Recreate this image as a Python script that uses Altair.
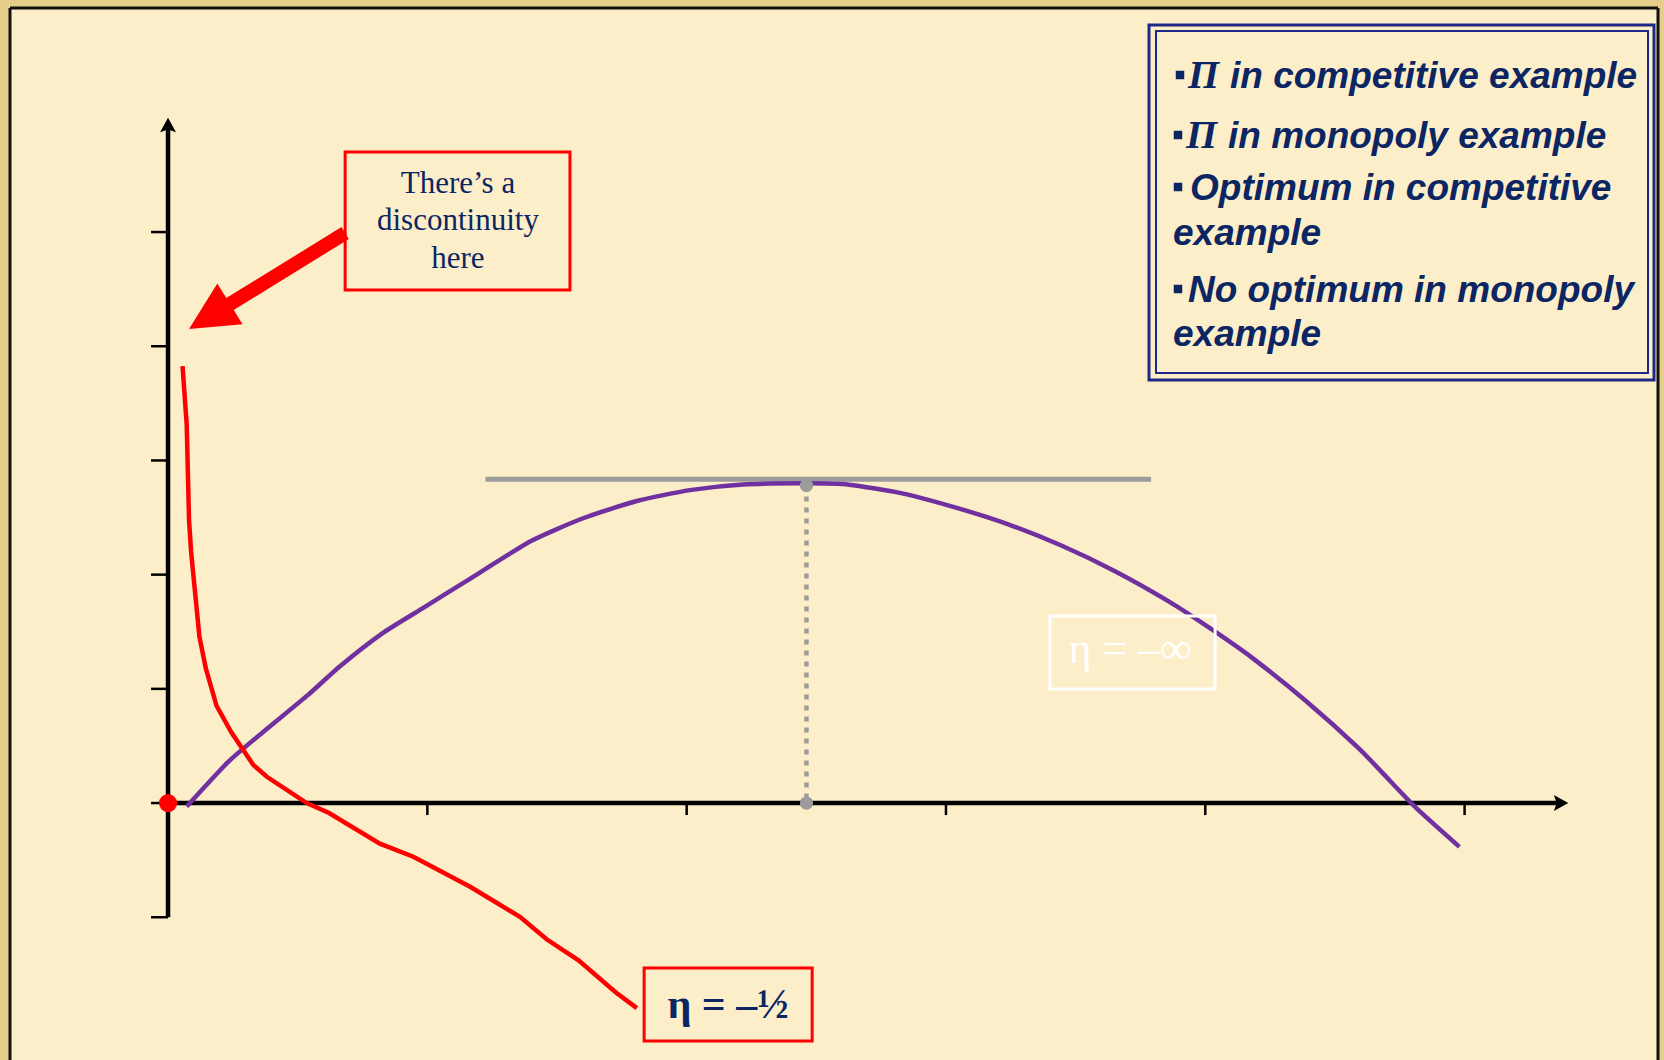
import altair as alt
import pandas as pd

W, H = 1664, 1060

WOOD = "#E5CE8A"
CREAM = "#FCEEC9"
NAVY = "#0C2563"
BOX_BLUE = "#1E2888"
PURPLE = "#7030A0"
RED = "#FF0000"
GREY = "#9C9C9C"

# Competitive example: profit against output (a smooth hill)
comp_q = [0.072, 0.232, 0.375, 0.539, 0.662, 0.825, 0.989, 1.153, 1.398, 1.603, 1.808,
          2.012, 2.217, 2.462, 2.626, 2.831, 3.035, 3.240, 3.445, 3.650, 3.854, 4.018,
          4.181, 4.386, 4.591, 4.713, 4.816, 4.980]
comp_pi = [-0.031, 0.360, 0.638, 0.945, 1.196, 1.484, 1.716, 1.948, 2.292, 2.496, 2.645,
           2.740, 2.790, 2.800, 2.788, 2.712, 2.589, 2.441, 2.255, 2.032, 1.772, 1.531,
           1.271, 0.898, 0.481, 0.193, -0.049, -0.384]

# Monopoly example: profit keeps rising as output shrinks towards zero
mono_q = [0.056, 0.072, 0.081, 0.089, 0.105, 0.121, 0.146, 0.187, 0.244, 0.290, 0.329,
          0.381, 0.535, 0.621, 0.817, 0.946, 1.165, 1.357, 1.460, 1.583, 1.726, 1.808]
mono_pi = [3.826, 3.314, 2.478, 2.199, 1.828, 1.456, 1.177, 0.852, 0.620, 0.464, 0.333,
           0.230, 0.000, -0.087, -0.356, -0.470, -0.733, -0.996, -1.193, -1.378, -1.657,
           -1.796]

# Optimum of the competitive example and its horizontal tangent
opt_q, opt_pi = 2.462, 2.78
tangent_q = [1.224, 3.791]
tangent_pi = 2.836

# Profit at zero output in the monopoly example
zero_q, zero_pi = 0.0, 0.0

# Axes
x_ticks = [1, 2, 3, 4, 5]
y_ticks = [-1, 0, 1, 2, 3, 4, 5]
x_axis_end = 5.40
y_axis_top = 6.0
y_axis_bottom = -1.0

# Scale domains spanning the whole canvas
X_DOMAIN = [-0.648, 5.769]
Y_DOMAIN = [-2.250, 7.032]

ONE = pd.DataFrame({"k": [0]})
xs = alt.Scale(domain=X_DOMAIN, nice=False, zero=False)
ys = alt.Scale(domain=Y_DOMAIN, nice=False, zero=False)


def X(f):
    return alt.X(f, type="quantitative", scale=xs, axis=None)


def Y(f):
    return alt.Y(f, type="quantitative", scale=ys, axis=None)


layers = []

# slide panel and its frame
layers.append(alt.Chart(ONE).mark_rect(fill=CREAM).encode(
    x=alt.value(10), x2=alt.value(1658), y=alt.value(8), y2=alt.value(H)))
for xa, xb, ya, yb in [(10, 10, 8, H), (1658, 1658, 8, H), (10, 1658, 8, 8)]:
    layers.append(alt.Chart(ONE).mark_rule(color="#111111", strokeWidth=3).encode(
        x=alt.value(xa), x2=alt.value(xb), y=alt.value(ya), y2=alt.value(yb)))

# axes
axis_df = pd.DataFrame({"x0": [0.0, 0.0], "x1": [x_axis_end - 0.03, 0.0],
                        "y0": [0.0, y_axis_bottom], "y1": [0.0, y_axis_top - 0.04]})
layers.append(alt.Chart(axis_df).mark_rule(color="black", strokeWidth=4.5).encode(
    x=X("x0"), x2="x1", y=Y("y0"), y2="y1"))
xt = pd.DataFrame({"q": x_ticks, "z": [0] * len(x_ticks)})
layers.append(alt.Chart(xt).mark_rule(color="black", strokeWidth=2.5, y2Offset=12).encode(
    x=X("q"), y=Y("z"), y2="z"))
yt = pd.DataFrame({"p": y_ticks, "z": [0] * len(y_ticks)})
layers.append(alt.Chart(yt).mark_rule(color="black", strokeWidth=2.5, x2Offset=-17).encode(
    x=X("z"), x2="z", y=Y("p")))
head = "M0,0 L0.55,1 L0,0.8 L-0.55,1 Z"
heads = pd.DataFrame({"x": [0.0, x_axis_end], "y": [y_axis_top, 0.0], "a": [0, 90]})
layers.append(alt.Chart(heads).mark_point(shape=head, filled=True, color="black",
                                          size=841, opacity=1).encode(
    x=X("x"), y=Y("y"), angle=alt.Angle("a:Q", scale=None)))

# tangent at the optimum and the drop line to the output axis
tan_df = pd.DataFrame({"q": tangent_q, "p": [tangent_pi, tangent_pi]})
layers.append(alt.Chart(tan_df).mark_line(color=GREY, strokeWidth=5).encode(
    x=X("q"), y=Y("p")))
drop_df = pd.DataFrame({"q": [opt_q, opt_q], "p": [opt_pi, 0.0]})
layers.append(alt.Chart(drop_df).mark_line(color=GREY, strokeWidth=4.5,
                                           strokeDash=[5, 6]).encode(
    x=X("q"), y=Y("p")))

# profit curves
comp_df = pd.DataFrame({"q": comp_q, "p": comp_pi})
layers.append(alt.Chart(comp_df).mark_line(color=PURPLE, strokeWidth=4.5,
                                           interpolate="cardinal", tension=0.4).encode(
    x=X("q"), y=Y("p"), order="q"))
mono_df = pd.DataFrame({"q": mono_q, "p": mono_pi})
layers.append(alt.Chart(mono_df).mark_line(color=RED, strokeWidth=4.5).encode(
    x=X("q"), y=Y("p"), order="q"))

# points
layers.append(alt.Chart(drop_df).mark_circle(color=GREY, size=177, opacity=1).encode(
    x=X("q"), y=Y("p")))
layers.append(alt.Chart(pd.DataFrame({"q": [zero_q], "p": [zero_pi]})).mark_circle(
    color=RED, size=330, opacity=1).encode(x=X("q"), y=Y("p")))

# discontinuity note with its arrow
note_box = pd.DataFrame({"x0": [0.683], "x1": [1.550], "y0": [5.700], "y1": [4.492]})
layers.append(alt.Chart(note_box).mark_rect(fill=CREAM, stroke=RED, strokeWidth=3).encode(
    x=X("x0"), x2="x1", y=Y("y0"), y2="y1"))
note_lines = pd.DataFrame({"x": [1.118] * 3, "y": [5.342, 5.018, 4.685],
                           "t": ["There\u2019s a", "discontinuity", "here"]})
layers.append(alt.Chart(note_lines).mark_text(font="Liberation Serif", fontSize=31,
                                              color=NAVY, align="center",
                                              baseline="alphabetic").encode(
    x=X("x"), y=Y("y"), text="t:N"))
shaft = pd.DataFrame({"q": [0.683, 0.220], "p": [4.991, 4.343]})
layers.append(alt.Chart(shaft).mark_line(color=RED, strokeWidth=14).encode(
    x=X("q"), y=Y("p"), order=alt.Order("q", sort="descending")))
layers.append(alt.Chart(pd.DataFrame({"q": [0.081], "p": [4.151]})).mark_point(
    shape="M0,0 L1,2 L-1,2 Z", filled=True, color=RED, size=2304, angle=238.4,
    opacity=1).encode(x=X("q"), y=Y("p")))

# elasticity labels
half_box = pd.DataFrame({"x0": [1.836], "x1": [2.484], "y0": [-1.445], "y1": [-2.084]})
layers.append(alt.Chart(half_box).mark_rect(fill=CREAM, stroke=RED, strokeWidth=3).encode(
    x=X("x0"), x2="x1", y=Y("y0"), y2="y1"))
layers.append(alt.Chart(pd.DataFrame({"x": [2.160], "y": [-1.883],
                                      "t": ["\u03b7 = \u2013\u00bd"]})).mark_text(
    font="Liberation Serif", fontSize=42, fontWeight="bold", color=NAVY,
    align="center", baseline="alphabetic").encode(x=X("x"), y=Y("y"), text="t:N"))
inf_box = pd.DataFrame({"x0": [3.401], "x1": [4.038], "y0": [1.637], "y1": [0.998]})
layers.append(alt.Chart(inf_box).mark_rect(fillOpacity=0, stroke="white",
                                           strokeWidth=3).encode(
    x=X("x0"), x2="x1", y=Y("y0"), y2="y1"))
layers.append(alt.Chart(pd.DataFrame({"x": [3.710], "y": [1.226],
                                      "t": ["\u03b7 = \u2013\u221e"]})).mark_text(
    font="Liberation Serif", fontSize=44, color="white",
    align="center", baseline="alphabetic").encode(x=X("x"), y=Y("y"), text="t:N"))

# bullet list box in the top right corner
for (xa, xb, ya, yb, sw) in [(1149, 1654, 25, 380, 3), (1156, 1648, 31, 373, 2)]:
    layers.append(alt.Chart(ONE).mark_rect(fillOpacity=0, stroke=BOX_BLUE,
                                           strokeWidth=sw).encode(
        x=alt.value(xa), x2=alt.value(xb), y=alt.value(ya), y2=alt.value(yb)))

legend_rows = [
    # (bullet x, pi symbol?, text x, baseline, text)
    (1180, True, 1230, 88, "in competitive example"),
    (1178, True, 1228, 148, "in monopoly example"),
    (1178, False, 1190, 200, "Optimum in competitive"),
    (None, False, 1173, 245, "example"),
    (1178, False, 1188, 302, "No optimum in monopoly"),
    (None, False, 1173, 346, "example"),
]
for bx, has_pi, tx, by, text in legend_rows:
    if bx is not None:
        layers.append(alt.Chart(ONE).mark_square(size=72, color=NAVY, opacity=1).encode(
            x=alt.value(bx), y=alt.value(by - 13)))
    if has_pi:
        layers.append(alt.Chart(ONE).mark_text(
            font="Liberation Serif", fontSize=40, fontStyle="italic", fontWeight="bold",
            color=NAVY, align="left", baseline="alphabetic").encode(
            x=alt.value(bx + 8), y=alt.value(by), text=alt.value("\u03a0")))
    layers.append(alt.Chart(ONE).mark_text(
        font="Liberation Sans", fontSize=37, fontStyle="italic", fontWeight="bold",
        color=NAVY, align="left", baseline="alphabetic").encode(
        x=alt.value(tx), y=alt.value(by), text=alt.value(text)))

chart = alt.layer(*layers).properties(
    width=W, height=H, padding=0,
    autosize=alt.AutoSizeParams(type="none"),
    background=WOOD,
).configure_view(stroke="transparent")

chart.save("out.html", embed_options={"renderer": "svg", "actions": False})
